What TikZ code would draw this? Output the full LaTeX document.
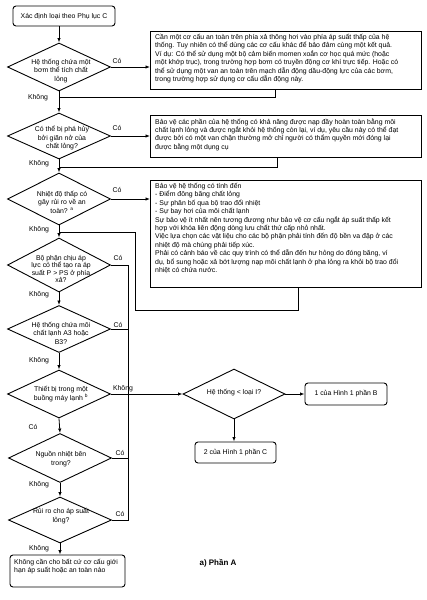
\documentclass[tikz,border=0pt]{standalone}
\usepackage{fontspec}
\setmainfont{Liberation Sans}
\usetikzlibrary{shapes.geometric,arrows.meta}
\begin{document}
\begin{tikzpicture}[x=1pt,y=-1pt,
  every node/.style={inner sep=0pt, font=\fontsize{6.9}{8.4}\selectfont},
  ln/.style={line width=0.8pt},
  arr/.style={line width=0.8pt,-{Latex[length=4.5pt,width=3.4pt]}},
  dia/.style={draw,diamond,line width=0.9pt,minimum width=103pt},
  sbox/.style={draw,rectangle,line width=1pt,anchor=north west},
  rbox/.style={draw,rectangle,rounded corners=3pt,line width=0.9pt},
  dtxt/.style={align=center},
  btxt/.style={align=left,anchor=north west}]
\useasboundingbox (0,0) rectangle (427,600);

% start
\node[rbox,minimum width=102pt,minimum height=20pt] (start) at (64,16) {Xác định loại theo Phụ lục C};

% diamonds (main column)
\node[dia,minimum height=48pt] (d1) at (59,67) {};
\node[dtxt] (d1t) at (61,71) {Hệ thống chứa một\\bơm thể tích chất\\lỏng};
\node[dia,minimum height=46pt] (d2) at (59,136) {};
\node[dtxt] (d2t) at (62,138) {Có thể bị phá hủy\\bởi giãn nở của\\chất lỏng?};
\node[dia,minimum height=52pt] (d3) at (59,199) {};
\node[dtxt] (d3t) at (62,202) {Nhiệt độ thấp có\\gây rủi ro về an\\toàn? \textsuperscript{a}};
\node[dia,minimum height=54pt] (d4) at (59,265) {};
\node[dtxt,font=\fontsize{6.9}{7.6}\selectfont] (d4t) at (61,269) {Bộ phận chịu áp\\lực có thể tạo ra áp\\suất P > PS ở phía\\xả?};
\node[dia,minimum height=47pt] (d5) at (59,329) {};
\node[dtxt] (d5t) at (61,333) {Hệ thống chứa môi\\chất lạnh A3 hoặc\\B3?};
\node[dia,minimum height=48pt] (d6) at (59,394) {};
\node[dtxt] (d6t) at (61,394) {Thiết bị trong một\\buồng máy lạnh \textsuperscript{b}};
\node[dia,minimum height=49pt] (d7) at (60,458) {};
\node[dtxt] (d7t) at (61,459) {Nguồn nhiệt bên\\trong?};
\node[dia,minimum height=46pt] (d8) at (60,520) {};
\node[dtxt] (d8t) at (61,516) {Rủi ro cho áp suất\\lỏng?};

% end box
\node[rbox,minimum width=115pt,minimum height=32pt] (endb) at (67.5,571) {};
\node[btxt] (endt) at (14,559) {Không cần cho bất cứ cơ cấu giới\\hạn áp suất hoặc an toàn nào};

% text boxes
\node[sbox,minimum width=271pt,minimum height=58pt] (b1) at (150,31) {};
\node[btxt] (b1t) at (155,34) {Cần một cơ cấu an toàn trên phía xả thông hơi vào phía áp suất thấp của hệ\\
thống. Tuy nhiên có thể dùng các cơ cấu khác để bảo đảm cùng một kết quả.\\
Ví dụ: Có thể sử dụng một bộ cảm biến momen xoắn cơ học quá mức (hoặc\\
một khớp trục), trong trường hợp bơm có truyền động cơ khí trực tiếp. Hoặc có\\
thể sử dụng một van an toàn trên mạch dẫn động dầu-động lực của các bơm,\\
trong trường hợp sử dụng cơ cấu dẫn động này.};

\node[sbox,minimum width=271pt,minimum height=42pt] (b2) at (150,115) {};
\node[btxt] (b2t) at (155,118) {Bảo vệ các phần của hệ thống có khả năng được nạp đầy hoàn toàn bằng môi\\
chất lạnh lỏng và được ngắt khỏi hệ thống còn lại, ví dụ, yêu cầu này có thể đạt\\
được bởi có một van chặn thường mở chỉ người có thẩm quyền mới đóng lại\\
được bằng một dụng cụ};

\node[sbox,minimum width=271pt,minimum height=107pt] (b3) at (150,180) {};
\node[btxt] (b3t) at (155,183) {Bảo vệ hệ thống có tính đến\\
- Điểm đông băng chất lỏng\\
- Sự phân bố qua bộ trao đổi nhiệt\\
- Sự bay hơi của môi chất lạnh\\
Sự bảo vệ ít nhất nên tương đương như bảo vệ cơ cấu ngắt áp suất thấp kết\\
hợp với khóa liên động dòng lưu chất thứ cấp nhỏ nhất.\\
Việc lựa chọn các vật liệu cho các bộ phận phải tính đến độ bền va đập ở các\\
nhiệt độ mà chúng phải tiếp xúc.\\
Phải có cảnh báo về các quy trình có thể dẫn đến hư hỏng do đóng băng, ví\\
dụ, bổ sung hoặc xả bớt lượng nạp môi chất lạnh ở pha lỏng ra khỏi bộ trao đổi\\
nhiệt có chứa nước.};

% right decision
\node[dia,minimum width=102pt,minimum height=50pt] (d9) at (234,394) {};
\node[dtxt] (d9t) at (234,393) {Hệ thống < loại I?};
\node[rbox,minimum width=82pt,minimum height=22pt] (bB) at (346,394) {1 của Hình 1 phần B};
\node[rbox,minimum width=81pt,minimum height=21pt] (bC) at (235.5,452.5) {2 của Hình 1 phần C};

% caption
\node[font=\fontsize{8}{9}\selectfont\bfseries] (cap) at (218,563) {a) Phần A};

% coordinates
\coordinate (b1o) at (275,89);
\coordinate (j1) at (59,97);
\coordinate (b2o) at (277,157);
\coordinate (j2) at (59,167);
\coordinate (b3o) at (298,287);
\coordinate (k3) at (135,310);
\coordinate (j3) at (59,232);
\coordinate (v1) at (128,265);

% main flow
\draw[arr] (start.south -| d1) -- (d1.north);
\draw[arr] (d1.south) -- (d2.north);
\draw[arr] (d2.south) -- (d3.north);
\draw[arr] (d3.south) -- (d4.north);
\draw[arr] (d4.south) -- (d5.north);
\draw[arr] (d5.south) -- (d6.north);
\draw[arr] (d6.south) -- (d7.north);
\draw[arr] (d7.south) -- (d8.north);
\draw[arr] (d8.south) -- (d8.south |- endb.north);

% yes branches to boxes
\draw[arr] (d1.east) -- (d1.east -| b1.west);
\draw[arr] (d2.east) -- (d2.east -| b2.west);
\draw[arr] (d3.east) -- (d3.east -| b3.west);

% returns
\draw[ln] (b1o) |- (j1);
\draw[ln] (b2o) |- (j2);
\draw[ln] (b3o) |- (k3) |- (j3);

% yes bus
\draw[ln] (d4.east) -- (v1) -- (v1 |- d8.east) -- (d8.east);
\draw[ln] (d5.east) -- (d5.east -| v1);
\draw[ln] (d7.east) -- (d7.east -| v1);
\draw[arr] (d6.east) -- (d9.west);
\draw[arr] (d9.east) -- (bB.west);
\draw[arr] (d9.south) -- (d9.south |- bC.north);

% labels
\node (l1) at (117,61) {Có};
\node (l2) at (38,98) {Không};
\node (l3) at (117,128) {Có};
\node (l4) at (39,164) {Không};
\node (l5) at (117,190) {Có};
\node (l6) at (39,230) {Không};
\node (l7) at (118,258) {Có};
\node (l8) at (39,295) {Không};
\node (l9) at (118,325) {Có};
\node (l10) at (39,361) {Không};
\node (l11) at (123,389) {Không};
\node (l12) at (33,427) {Có};
\node (l13) at (120,453) {Có};
\node (l14) at (39,485) {Không};
\node (l15) at (120,514) {Có};
\node (l16) at (39,549) {Không};
\end{tikzpicture}
\end{document}
